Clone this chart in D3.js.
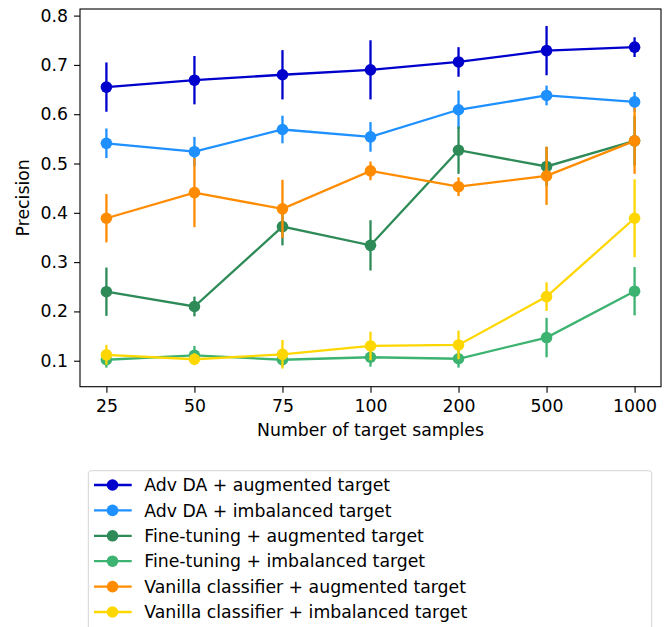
<!DOCTYPE html>
<html>
<head>
<meta charset="utf-8">
<script src="https://cdn.jsdelivr.net/npm/d3@7"></script>
<style>
  body { margin: 0; background: #fff; }
  svg text { font-family: "DejaVu Sans", sans-serif; }
</style>
</head>
<body>
<svg id="chart" width="669" height="627"></svg>
<script>
// sample counts on the x axis
let categories = ["25", "50", "75", "100", "200", "500", "1000"];
let yTicks = [0.1, 0.2, 0.3, 0.4, 0.5, 0.6, 0.7, 0.8];

let seriesNames = [
    "Adv DA + augmented target",
    "Adv DA + imbalanced target",
    "Fine-tuning + augmented target",
    "Fine-tuning + imbalanced target",
    "Vanilla classifier + augmented target",
    "Vanilla classifier + imbalanced target"
];
let seriesColors = ["#0000cd", "#1e90ff", "#2e8b57", "#3cb371", "#ff8c00", "#ffd700"];

let advAug    = [0.655, 0.669, 0.680, 0.690, 0.706, 0.729, 0.736];
let advAugErr = [0.050, 0.049, 0.050, 0.060, 0.030, 0.050, 0.020];
let advImb    = [0.541, 0.524, 0.569, 0.554, 0.609, 0.638, 0.625];
let advImbErr = [0.030, 0.030, 0.028, 0.030, 0.039, 0.020, 0.020];
let ftAug     = [0.240, 0.210, 0.372, 0.334, 0.527, 0.494, 0.546];
let ftAugErr  = [0.049, 0.020, 0.038, 0.051, 0.048, 0.040, 0.050];
let ftImb     = [0.102, 0.111, 0.102, 0.107, 0.104, 0.147, 0.241];
let ftImbErr  = [0.016, 0.019, 0.015, 0.019, 0.018, 0.040, 0.049];
let vanAug    = [0.389, 0.441, 0.408, 0.485, 0.453, 0.475, 0.546];
let vanAugErr = [0.049, 0.070, 0.059, 0.019, 0.019, 0.059, 0.067];
let vanImb    = [0.112, 0.103, 0.113, 0.130, 0.132, 0.230, 0.389];
let vanImbErr = [0.020, 0.012, 0.029, 0.029, 0.029, 0.029, 0.079];

let values = [advAug, advImb, ftAug, ftImb, vanAug, vanImb];
let errors = [advAugErr, advImbErr, ftAugErr, ftImbErr, vanAugErr, vanImbErr];

let svg = d3.select("#chart");
let plotLeft = 80, plotRight = 661, plotTop = 9, plotBottom = 386.7;

let xScale = d3.scalePoint()
    .domain(categories)
    .range([plotLeft, plotRight])
    .padding(0.3);

let yScale = d3.scaleLinear()
    .domain([0.0473, 0.8134])
    .range([plotBottom, plotTop]);

let fontSize = "17.3px";

// axes
let xAxis = d3.axisBottom(xScale).tickSize(6).tickPadding(7);
let xg = svg.append("g").attr("transform", "translate(0," + plotBottom + ")").call(xAxis);
let yAxis = d3.axisLeft(yScale).tickValues(yTicks).tickFormat(d3.format(".1f")).tickSize(6).tickPadding(6);
let yg = svg.append("g").attr("transform", "translate(" + plotLeft + ",0)").call(yAxis);
for (let g of [xg, yg]) {
    g.select(".domain").remove();
    g.selectAll("line").attr("stroke", "#000").attr("stroke-width", 1.1);
    g.selectAll("text").attr("fill", "#000").style("font-size", fontSize)
        .style("font-family", "DejaVu Sans");
}

// plot frame
svg.append("rect")
    .attr("x", plotLeft).attr("y", plotTop)
    .attr("width", plotRight - plotLeft).attr("height", plotBottom - plotTop)
    .attr("fill", "none").attr("stroke", "#000").attr("stroke-width", 1.1);

// series
let line = d3.line()
    .x((d, i) => xScale(categories[i]))
    .y(d => yScale(d));

let plot = svg.append("g");
for (let s = 0; s < values.length; s++) {
    let g = plot.append("g");
    let color = seriesColors[s];
    g.append("path")
        .datum(values[s])
        .attr("d", line)
        .attr("fill", "none")
        .attr("stroke", color)
        .attr("stroke-width", 2.3);
    g.selectAll("line.err")
        .data(values[s])
        .enter().append("line")
        .attr("class", "err")
        .attr("x1", (d, i) => xScale(categories[i]))
        .attr("x2", (d, i) => xScale(categories[i]))
        .attr("y1", (d, i) => yScale(d - errors[s][i]))
        .attr("y2", (d, i) => yScale(d + errors[s][i]))
        .attr("stroke", color)
        .attr("stroke-width", 2.3);
    g.selectAll("circle")
        .data(values[s])
        .enter().append("circle")
        .attr("cx", (d, i) => xScale(categories[i]))
        .attr("cy", d => yScale(d))
        .attr("r", 5.8)
        .attr("fill", color);
}

// axis titles
svg.append("text")
    .attr("x", (plotLeft + plotRight) / 2).attr("y", 435.5)
    .attr("text-anchor", "middle")
    .style("font-size", fontSize)
    .text("Number of target samples");
svg.append("text")
    .attr("transform", "translate(29," + ((plotTop + plotBottom) / 2) + ") rotate(-90)")
    .attr("text-anchor", "middle")
    .style("font-size", fontSize)
    .text("Precision");

// legend
let legend = svg.append("g");
legend.append("rect")
    .attr("x", 88.3).attr("y", 470.7)
    .attr("width", 563.4).attr("height", 170)
    .attr("rx", 3).attr("ry", 3)
    .attr("fill", "#fff")
    .attr("stroke", "#d4d4d4").attr("stroke-width", 1);

let rowY = d3.scaleLinear().domain([0, 5]).range([485, 612]);
let rows = legend.selectAll("g.row")
    .data(seriesNames)
    .enter().append("g")
    .attr("class", "row")
    .attr("transform", (d, i) => "translate(0," + rowY(i) + ")");
rows.append("line")
    .attr("x1", 94).attr("x2", 131.7)
    .attr("stroke", (d, i) => seriesColors[i])
    .attr("stroke-width", 2.3);
rows.append("circle")
    .attr("cx", 112.5).attr("r", 5.8)
    .attr("fill", (d, i) => seriesColors[i]);
rows.append("text")
    .attr("x", 144.3).attr("dy", "0.36em")
    .style("font-size", fontSize)
    .text(d => d);
</script>
</body>
</html>
